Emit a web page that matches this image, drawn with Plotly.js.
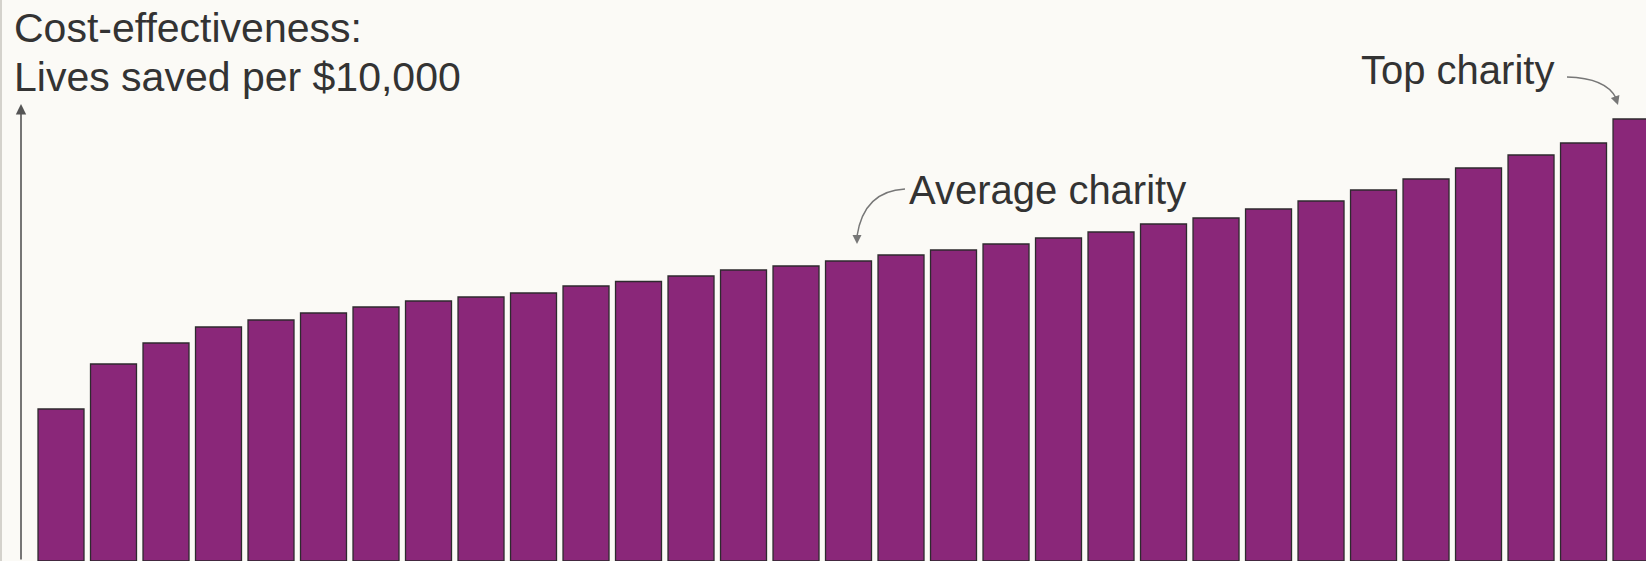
<!DOCTYPE html>
<html>
<head>
<meta charset="utf-8">
<script src="https://cdn.plot.ly/plotly-3.0.1.min.js"></script>
<style>
  html, body { margin: 0; padding: 0; background: #fbfaf6; }
  #chart { width: 1646px; height: 561px; }
</style>
</head>
<body>
<div id="chart"></div>
<script>
// Charities ranked from least to most cost-effective
const charities = ["C1","C2","C3","C4","C5","C6","C7","C8","C9","C10",
  "C11","C12","C13","C14","C15","C16","C17","C18","C19","C20",
  "C21","C22","C23","C24","C25","C26","C27","C28","C29","C30","C31"];
// Relative cost-effectiveness (arbitrary units)
const effectiveness = [152,197,218,234,241,248,254,260,264,268,
  275,279.5,285,291,295,300,306,311,317,323,
  329,337,343,352,360,371,382,393,406,418,442];

const titleLines = ["Cost-effectiveness:", "Lives saved per $10,000"];
const averageLabel = "Average charity";
const topLabel = "Top charity";

const W = 1646, H = 561;
const px = x => x / W;          // pixel -> paper x
const py = y => 1 - y / H;      // pixel -> paper y (from top)

const family = "Liberation Sans, Arial, Helvetica, sans-serif";
const titleFont = {family: family, size: 41, color: "#333333"};
const labelFont = {family: family, size: 40, color: "#333333"};

const trace = {
  type: "bar",
  x: charities,
  y: effectiveness,
  width: 0.876,
  marker: {color: "rgb(138,39,121)", line: {color: "#2e2a2e", width: 1.3}},
  hoverinfo: "x+y"
};

function curvePath(p0, c, p1) {
  return `M ${px(p0[0])},${py(p0[1])} Q ${px(c[0])},${py(c[1])} ${px(p1[0])},${py(p1[1])}`;
}

const layout = {
  width: W, height: H,
  margin: {l: 0, r: 0, t: 0, b: 0, pad: 0},
  paper_bgcolor: "#fbfaf6",
  plot_bgcolor: "#fbfaf6",
  showlegend: false,
  bargap: 0.124,
  xaxis: {type: "category", range: [-1.162, 30.19], showticklabels: false, showgrid: false, zeroline: false, showline: false, ticks: ""},
  yaxis: {range: [0, 561], showticklabels: false, showgrid: false, zeroline: false, showline: false, ticks: ""},
  shapes: [
    {type: "line", xref: "paper", yref: "paper", x0: px(1), x1: px(1), y0: 0, y1: 1, line: {color: "#d4d2cc", width: 2}},
    {type: "path", xref: "paper", yref: "paper", path: curvePath([905,189],[864,191],[857,236]), line: {color: "#777", width: 1.5}},
    {type: "path", xref: "paper", yref: "paper", path: curvePath([1567,77],[1606,78],[1616,98]), line: {color: "#777", width: 1.5}}
  ],
  annotations: [
    {xref: "paper", yref: "paper", x: px(12), y: py(28.5), xanchor: "left", yanchor: "middle", text: titleLines[0], showarrow: false, font: titleFont},
    {xref: "paper", yref: "paper", x: px(12), y: py(77), xanchor: "left", yanchor: "middle", text: titleLines[1], showarrow: false, font: titleFont},
    {xref: "paper", yref: "paper", x: px(907), y: py(190), xanchor: "left", yanchor: "middle", text: averageLabel, showarrow: false, font: labelFont},
    {xref: "paper", yref: "paper", x: px(1359), y: py(70), xanchor: "left", yanchor: "middle", text: topLabel, showarrow: false, font: labelFont},
    // y-axis arrow
    {xref: "paper", yref: "paper", x: px(21), y: py(104), text: "", showarrow: true, ax: 0, ay: 460, arrowhead: 2, arrowsize: 1.3, arrowwidth: 1.6, arrowcolor: "#555", standoff: 0},
    // arrowheads of curved pointers
    {xref: "paper", yref: "paper", x: px(857), y: py(244), text: "", showarrow: true, ax: 0, ay: -10, arrowhead: 2, arrowsize: 1.2, arrowwidth: 1.5, arrowcolor: "#777", standoff: 0},
    {xref: "paper", yref: "paper", x: px(1618), y: py(105), text: "", showarrow: true, ax: -3, ay: -9, arrowhead: 2, arrowsize: 1.2, arrowwidth: 1.5, arrowcolor: "#777", standoff: 0}
  ]
};

Plotly.newPlot("chart", [trace], layout, {displayModeBar: false, staticPlot: true});
</script>
</body>
</html>
